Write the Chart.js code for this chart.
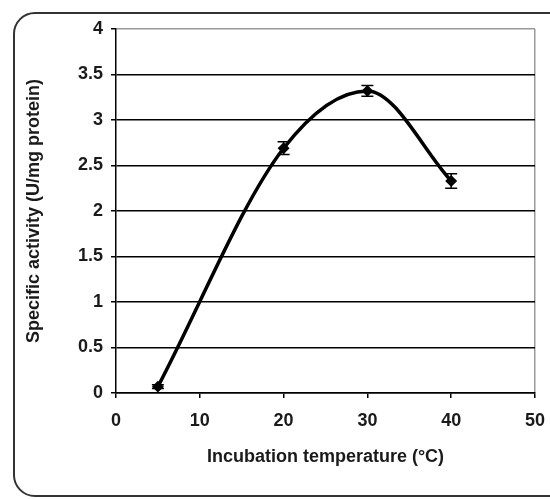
<!DOCTYPE html>
<html lang="en">
<head>
    <meta charset="UTF-8" />
    <title>Specific activity vs incubation temperature</title>
    <script src="https://cdn.jsdelivr.net/npm/chart.js"></script>
    <style>
        html, body { margin: 0; padding: 0; background: #fff; overflow: hidden; }
        .moldura {
            position: absolute; left: 13px; top: 12px; width: 560px; height: 485px;
            border: 2px solid #333; border-radius: 22px; box-sizing: border-box;
        }
        .caixa { position: absolute; left: 0; top: 0; width: 550px; height: 499px; }
    </style>
</head>
<body>
    <div class="moldura"></div>
    <div class="caixa">
        <canvas id="grafico_temperatura" width="550" height="499"></canvas>
    </div>

<script>
    // dados
    const temperaturas = [5, 20, 30, 40];
    const atividades = [0.07, 2.69, 3.32, 2.33];
    const erros = [0.02, 0.07, 0.06, 0.08];
    const ticksX = [0, 10, 20, 30, 40, 50];
    const ticksY = [0, 0.5, 1, 1.5, 2, 2.5, 3, 3.5, 4];

    const fonteTicks = { family: 'Liberation Sans', size: 18, weight: 'bold' };
    const fonteTitulo = { family: 'Liberation Sans', size: 18, weight: 'bold' };

    // barras de erro desenhadas com as escalas do próprio gráfico
    const barrasErro = {
        id: 'barrasErro',
        afterDatasetsDraw(chart) {
            const ctx = chart.ctx;
            const x = chart.scales.x;
            const y = chart.scales.y;
            ctx.save();
            ctx.strokeStyle = '#000';
            ctx.lineWidth = 1.5;
            for (let i = 0; i < temperaturas.length; i++) {
                const px = x.getPixelForValue(temperaturas[i]);
                const yTop = y.getPixelForValue(atividades[i] + erros[i]);
                const yBot = y.getPixelForValue(atividades[i] - erros[i]);
                ctx.beginPath();
                ctx.moveTo(px, yTop); ctx.lineTo(px, yBot);
                ctx.moveTo(px - 6, yTop); ctx.lineTo(px + 6, yTop);
                ctx.moveTo(px - 6, yBot); ctx.lineTo(px + 6, yBot);
                ctx.stroke();
            }
            ctx.restore();
        }
    };

    const pontos = temperaturas.map((t, i) => ({ x: t, y: atividades[i] }));

    const config = {
        type: 'line',
        data: {
            datasets: [{
                label: 'Specific activity',
                data: pontos,
                borderColor: '#000',
                backgroundColor: '#000',
                borderWidth: 3.5,
                cubicInterpolationMode: 'monotone',
                pointStyle: 'rectRot',
                pointRadius: 3.5,
                fill: false
            }]
        },
        options: {
            responsive: false,
            animation: false,
            layout: { padding: { left: 20, top: 29, right: 15, bottom: 28 } },
            plugins: { legend: { display: false }, tooltip: { enabled: false } },
            scales: {
                x: {
                    type: 'linear',
                    min: 0,
                    max: 50,
                    afterBuildTicks: (s) => { s.ticks = ticksX.map(v => ({ value: v })); },
                    afterFit: (s) => { s.height = 78; s.paddingLeft = 0; s.paddingRight = 0; },
                    border: { color: '#000', width: 1.5 },
                    grid: {
                        color: (c) => (c.tick && c.tick.value === 50 ? '#999' : 'rgba(0,0,0,0)'),
                        tickColor: '#000',
                        tickLength: 5,
                        lineWidth: 1.5
                    },
                    ticks: { color: '#1a1a1a', font: fonteTicks, padding: 12, maxRotation: 0 },
                    title: {
                        display: true,
                        text: 'Incubation temperature (°C)',
                        color: '#1a1a1a',
                        font: fonteTitulo,
                        padding: { top: 4, bottom: 3 }
                    }
                },
                y: {
                    min: 0,
                    max: 4,
                    afterBuildTicks: (s) => { s.ticks = ticksY.map(v => ({ value: v })); },
                    afterFit: (s) => { s.width = 96; s.paddingTop = 0; s.paddingBottom = 0; },
                    border: { color: '#000', width: 1.5 },
                    grid: {
                        color: (c) => (c.tick && c.tick.value === 4 ? '#999' : '#000'),
                        tickColor: '#000',
                        tickLength: 5,
                        lineWidth: 1.5
                    },
                    ticks: {
                        color: '#1a1a1a',
                        font: fonteTicks,
                        padding: 8,
                        callback: (v) => String(v)
                    },
                    title: {
                        display: true,
                        text: 'Specific activity (U/mg protein)',
                        color: '#1a1a1a',
                        font: fonteTitulo,
                        padding: { top: 3 }
                    }
                }
            }
        },
        plugins: [barrasErro]
    };

    const grafico = new Chart(document.getElementById('grafico_temperatura'), config);
</script>
</body>
</html>
